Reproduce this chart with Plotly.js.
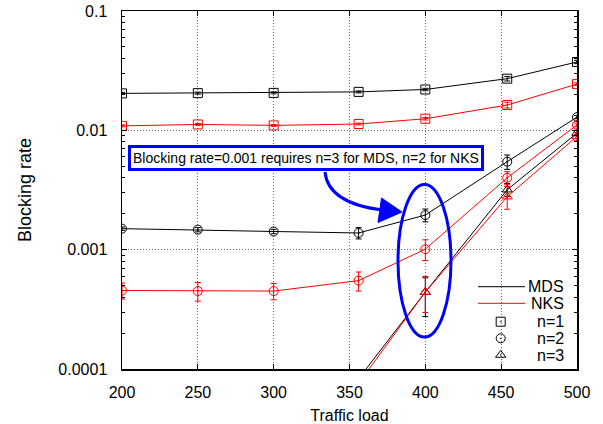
<!DOCTYPE html>
<html><head><meta charset="utf-8">
<script src="https://cdn.plot.ly/plotly-3.0.1.min.js"></script>
<style>html,body{margin:0;padding:0;background:#fff}#chart{width:603px;height:424px}</style>
</head><body><div id="chart"></div>
<script>
// ---- data ----
var loadX = [200, 250, 300, 356, 400, 454, 500];
var loadX3 = [356, 400, 454, 500];

var mdsN1 = [0.0204, 0.0205, 0.0206, 0.0210, 0.0220, 0.0271, 0.0374];
var mdsN1Err = [0.0004, 0.0004, 0.0004, 0.0004, 0.0005, 0.0012, 0.0012];
var nksN1 = [0.0109, 0.0112, 0.0110, 0.0113, 0.0125, 0.0163, 0.0244];
var nksN1Err = [0.0002, 0.0002, 0.0002, 0.0002, 0.0003, 0.0009, 0.0006];

var mdsN2 = [0.00150, 0.00147, 0.00142, 0.00138, 0.00195, 0.00546, 0.0129];
var mdsN2Err = [0.00005, 0.00006, 0.00006, 0.00015, 0.00024, 0.00075, 0.0004];
var nksN2 = [0.000455, 0.00045, 0.00045, 0.00055, 0.00101, 0.0040, 0.0111];
var nksN2Err = [0.00007, 0.00008, 0.00007, 0.0001, 0.0002, 0.0005, 0.0004];

var mdsN3 = [0.000083, 0.000441, 0.00318, 0.00949];
var mdsN3ErrPlus = [0, 0.00014, 0.0004, 0.0005];
var mdsN3ErrMinus = [0, 0.000166, 0.0004, 0.0005];
var nksN3 = [0.000076, 0.000441, 0.00278, 0.00889];
var nksN3ErrPlus = [0, 0.000155, 0.0006, 0.0007];
var nksN3ErrMinus = [0, 0.000144, 0.0006, 0.0007];

var seriesNames = ['MDS', 'NKS'];
var nLabels = ['n=1', 'n=2', 'n=3'];
var noteText = 'Blocking rate=0.001 requires n=3 for MDS, n=2 for NKS';
var xTickVals = [200, 250, 300, 350, 400, 450, 500];
var yTickVals = [0.0001, 0.001, 0.01, 0.1];
var yTickText = ['0.0001', '0.001', '0.01', '0.1'];

// ---- styling ----
var BLACK = '#000000', RED = '#ff0000', BLUE = '#0000ff', DARKRED = '#8b0000';
function series(x, y, ep, em, color, symbol, ecolor) {
  return {
    x: x, y: y, type: 'scatter', mode: 'lines+markers', showlegend: false,
    line: {color: color, width: 1},
    marker: {symbol: symbol, size: 9, color: color, line: {color: color, width: 1}},
    error_y: {type: 'data', array: ep, arrayminus: em, visible: true,
              color: ecolor || color, thickness: 1, width: 3},
    cliponaxis: true
  };
}
var traces = [
  series(loadX, mdsN1, mdsN1Err, mdsN1Err, BLACK, 'square-open-dot'),
  series(loadX, mdsN2, mdsN2Err, mdsN2Err, BLACK, 'circle-open-dot'),
  series(loadX3, mdsN3, mdsN3ErrPlus, mdsN3ErrMinus, BLACK, 'triangle-up-open-dot'),
  series(loadX, nksN1, nksN1Err, nksN1Err, RED, 'square-open-dot'),
  series(loadX, nksN2, nksN2Err, nksN2Err, RED, 'circle-open-dot'),
  series(loadX3, nksN3, nksN3ErrPlus, nksN3ErrMinus, RED, 'triangle-up-open-dot')
];

// ---- hand-built legend on a hidden overlay axis (0..1 = plot area) ----
var L = 122, T = 11, W = 455, H = 358;
function px(X) { return (X - L) / W; }
function py(Y) { return (T + H - Y) / H; }
var legRowsY = [286.7, 303.3, 321.7, 338.3, 355];
var legColors = [BLACK, RED];
for (var i = 0; i < 2; i++) {
  traces.push({x: [px(478), px(525)], y: [py(legRowsY[i]), py(legRowsY[i])],
    xaxis: 'x2', yaxis: 'y2', type: 'scatter', mode: 'lines', showlegend: false,
    hoverinfo: 'skip', line: {color: legColors[i], width: 1}});
}
var legSymbols = ['square-open-dot', 'circle-open-dot', 'triangle-up-open-dot'];
for (var j = 0; j < 3; j++) {
  traces.push({x: [px(500.7)], y: [py(legRowsY[j + 2])], xaxis: 'x2', yaxis: 'y2',
    type: 'scatter', mode: 'markers', showlegend: false, hoverinfo: 'skip',
    marker: {symbol: legSymbols[j], size: 9, color: BLACK, line: {color: BLACK, width: 1}}});
}

var annotations = [];
var legTexts = seriesNames.concat(nLabels);
for (var k = 0; k < 5; k++) {
  annotations.push({xref: 'paper', yref: 'paper', x: px(566), y: py(legRowsY[k]),
    xanchor: 'right', yanchor: 'middle', showarrow: false, text: legTexts[k],
    font: {size: 16, color: BLACK}});
}
annotations.push({xref: 'paper', yref: 'paper', x: px(305.5), y: py(158),
  xanchor: 'center', yanchor: 'middle', showarrow: false, text: noteText,
  font: {size: 14, color: BLACK}, bgcolor: '#ffffff', bordercolor: BLUE,
  borderwidth: 3, borderpad: 2});

var shapes = [
  {type: 'circle', xref: 'paper', yref: 'paper', x0: px(398), x1: px(451),
   y0: py(337), y1: py(184.5), line: {color: BLUE, width: 3}, layer: 'above'},
  {type: 'path', xref: 'paper', yref: 'paper',
   path: 'M' + px(325) + ',' + py(172) + ' Q' + px(328) + ',' + py(203) + ' ' + px(382) + ',' + py(210),
   line: {color: BLUE, width: 3}, layer: 'above'},
  {type: 'path', xref: 'paper', yref: 'paper',
   path: 'M' + px(402) + ',' + py(212) + ' L' + px(381.5) + ',' + py(198) + ' L' + px(378) + ',' + py(222.5) + ' Z',
   line: {color: BLUE, width: 1}, fillcolor: BLUE, layer: 'above'}
];

var layout = {
  width: 603, height: 424,
  margin: {l: L, r: 603 - L - W, t: T, b: 424 - T - H},
  paper_bgcolor: '#ffffff', plot_bgcolor: '#ffffff',
  font: {family: '"Liberation Sans", Arial, sans-serif', size: 16, color: BLACK},
  showlegend: false,
  xaxis: {
    range: [200, 500], tickvals: xTickVals, ticks: 'inside', ticklen: 5, tickcolor: BLACK,
    showline: true, linecolor: BLACK, linewidth: 1.5, mirror: 'allticks',
    showgrid: true, gridcolor: '#666666', griddash: '1px,2px', gridwidth: 1,
    zeroline: false, ticklabelstandoff: 8, tickfont: {size: 16},
    title: {text: 'Traffic load', font: {size: 16}, standoff: 12}
  },
  yaxis: {
    type: 'log', range: [-4, -1], tickvals: yTickVals, ticktext: yTickText,
    ticks: 'inside', ticklen: 5, tickcolor: BLACK,
    minor: {ticks: 'inside', ticklen: 3, dtick: 'D1', tickcolor: BLACK, showgrid: false},
    showline: true, linecolor: BLACK, linewidth: 1.5, mirror: 'allticks',
    showgrid: true, gridcolor: '#666666', griddash: '1px,2px', gridwidth: 1,
    zeroline: false, ticklabelstandoff: 10, tickfont: {size: 16},
    title: {text: 'Blocking rate', font: {size: 18}, standoff: 22}
  },
  xaxis2: {overlaying: 'x', range: [0, 1], visible: false, anchor: 'y2'},
  yaxis2: {overlaying: 'y', range: [0, 1], visible: false, anchor: 'x2'},
  annotations: annotations,
  shapes: shapes
};
Plotly.newPlot('chart', traces, layout, {staticPlot: true, displayModeBar: false});
</script></body></html>
